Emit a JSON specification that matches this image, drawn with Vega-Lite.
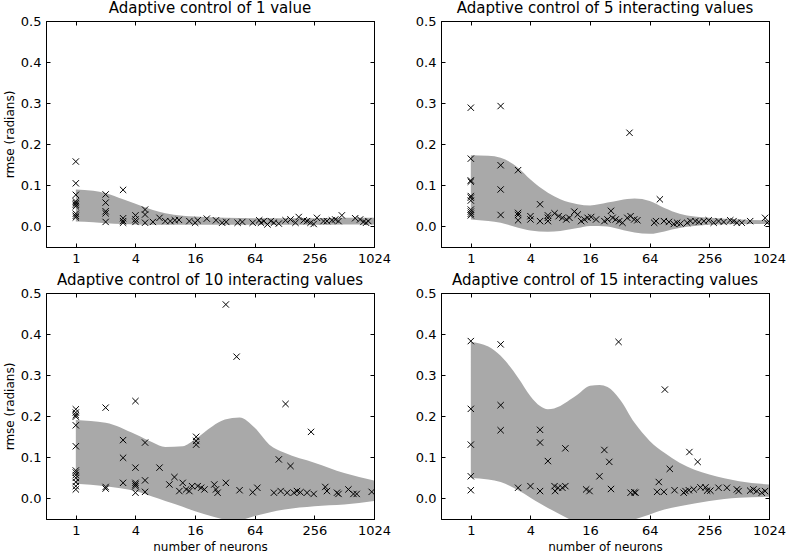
{
  "$schema": "https://vega.github.io/schema/vega-lite/v6.json",
  "background": "white",
  "padding": {"left": 2, "top": 0, "right": 5, "bottom": 5},
  "bounds": "flush",
  "columns": 2,
  "spacing": {"row": 46, "column": 67},
  "config": {
    "font": "DejaVu Sans",
    "view": {"stroke": "black", "strokeWidth": 1},
    "axis": {
      "domain": true, "domainColor": "black", "domainWidth": 1, "grid": false,
      "labelFont": "DejaVu Sans", "labelFontSize": 13, "labelColor": "black",
      "tickColor": "black", "tickSize": -4, "tickWidth": 1, "labelPadding": 9,
      "titleFont": "DejaVu Sans", "titleFontSize": 12, "titleFontWeight": "normal", "titleColor": "black", "titlePadding": 4,
      "labelOverlap": false, "labelFlush": false, "labelBound": false
    },
    "title": {"font": "DejaVu Sans", "fontSize": 15, "fontWeight": "normal", "color": "black", "offset": -1, "frame": "group"}
  },
  "datasets": {
    "p1": [
      {"n":1,"r":0.158},{"n":1,"r":0.105},{"n":1,"r":0.077},{"n":1,"r":0.061},{"n":1,"r":0.057},{"n":1,"r":0.053},{"n":1,"r":0.049},{"n":1,"r":0.031},{"n":1,"r":0.026},{"n":1,"r":0.022},
      {"n":2,"r":0.078},{"n":2,"r":0.058},{"n":2,"r":0.037},{"n":2,"r":0.032},{"n":2,"r":0.011},
      {"n":3,"r":0.089},{"n":3,"r":0.02},{"n":3,"r":0.013},{"n":3,"r":0.009},
      {"n":4,"r":0.027},{"n":4,"r":0.017},{"n":4,"r":0.011},
      {"n":5,"r":0.041},{"n":5,"r":0.029},{"n":5,"r":0.009},
      {"n":6,"r":0.011},{"n":7,"r":0.021},{"n":8,"r":0.013},{"n":9,"r":0.013},{"n":10,"r":0.015},{"n":11,"r":0.016},
      {"n":14,"r":0.013},{"n":16,"r":0.009},{"n":17,"r":0.015},{"n":21,"r":0.019},{"n":26,"r":0.015},{"n":30,"r":0.009},
      {"n":33,"r":0.011},{"n":43,"r":0.009},{"n":48,"r":0.011},{"n":61,"r":0.009},{"n":71,"r":0.015},{"n":74,"r":0.009},
      {"n":79,"r":0.013},{"n":86,"r":0.005},{"n":93,"r":0.013},{"n":100,"r":0.009},{"n":112,"r":0.007},{"n":131,"r":0.015},
      {"n":147,"r":0.017},{"n":165,"r":0.009},{"n":178,"r":0.023},{"n":200,"r":0.015},{"n":216,"r":0.013},{"n":234,"r":0.009},
      {"n":252,"r":0.006},{"n":272,"r":0.021},{"n":317,"r":0.013},{"n":343,"r":0.013},{"n":385,"r":0.015},{"n":416,"r":0.017},
      {"n":449,"r":0.013},{"n":485,"r":0.027},{"n":661,"r":0.02},{"n":741,"r":0.017},{"n":800,"r":0.011},{"n":851,"r":0.009},{"n":898,"r":0.013}
    ],
    "b1": [
      {"n":1,"lo":0.012,"hi":0.09},{"n":1.5,"lo":0.01,"hi":0.087},{"n":2,"lo":0.008,"hi":0.081},{"n":3,"lo":0.006,"hi":0.066},
      {"n":4,"lo":0.005,"hi":0.055},{"n":6,"lo":0.004,"hi":0.04},{"n":8,"lo":0.004,"hi":0.032},{"n":12,"lo":0.004,"hi":0.026},
      {"n":16,"lo":0.004,"hi":0.024},{"n":32,"lo":0.004,"hi":0.021},{"n":64,"lo":0.004,"hi":0.02},{"n":128,"lo":0.004,"hi":0.02},
      {"n":256,"lo":0.004,"hi":0.02},{"n":512,"lo":0.005,"hi":0.021},{"n":1024,"lo":0.005,"hi":0.021}
    ],
    "p2": [
      {"n":1,"r":0.289},{"n":1,"r":0.165},{"n":1,"r":0.112},{"n":1,"r":0.109},{"n":1,"r":0.074},{"n":1,"r":0.07},{"n":1,"r":0.063},{"n":1,"r":0.041},{"n":1,"r":0.036},{"n":1,"r":0.031},{"n":1,"r":0.027},
      {"n":2,"r":0.293},{"n":2,"r":0.149},{"n":2,"r":0.09},{"n":2,"r":0.028},
      {"n":3,"r":0.137},{"n":3,"r":0.033},{"n":3,"r":0.028},{"n":3,"r":0.015},
      {"n":4,"r":0.025},{"n":4,"r":0.017},{"n":5,"r":0.054},{"n":5,"r":0.013},
      {"n":6,"r":0.027},{"n":6,"r":0.021},{"n":6,"r":0.013},{"n":7,"r":0.032},{"n":7.7,"r":0.025},{"n":8.4,"r":0.021},{"n":9.2,"r":0.017},
      {"n":9.9,"r":0.021},{"n":11.1,"r":0.036},{"n":12,"r":0.029},{"n":13,"r":0.013},{"n":14,"r":0.017},{"n":15.1,"r":0.021},{"n":16.4,"r":0.023},
      {"n":18.4,"r":0.017},{"n":22.3,"r":0.013},{"n":24,"r":0.017},{"n":26,"r":0.038},{"n":27,"r":0.021},{"n":29,"r":0.017},{"n":31.5,"r":0.013},
      {"n":34,"r":0.009},{"n":38,"r":0.021},{"n":40,"r":0.228},{"n":41,"r":0.025},{"n":44.6,"r":0.017},{"n":48,"r":0.015},
      {"n":71,"r":0.009},{"n":74,"r":0.013},{"n":81,"r":0.066},{"n":89,"r":0.013},{"n":100,"r":0.011},{"n":112,"r":0.006},{"n":121,"r":0.009},
      {"n":131,"r":0.007},{"n":153,"r":0.009},{"n":165,"r":0.013},{"n":185,"r":0.013},{"n":200,"r":0.011},{"n":225,"r":0.013},{"n":252,"r":0.015},
      {"n":283,"r":0.009},{"n":317,"r":0.013},{"n":357,"r":0.011},{"n":416,"r":0.015},{"n":449,"r":0.013},{"n":485,"r":0.009},{"n":544,"r":0.009},
      {"n":661,"r":0.013},{"n":935,"r":0.021},{"n":984,"r":0.009}
    ],
    "b2": [
      {"n":1,"lo":0.017,"hi":0.173},{"n":1.5,"lo":0.013,"hi":0.172},{"n":2,"lo":0.009,"hi":0.167},{"n":3,"lo":-0.003,"hi":0.143},
      {"n":4,"lo":-0.01,"hi":0.114},{"n":6,"lo":-0.013,"hi":0.082},{"n":8,"lo":-0.011,"hi":0.066},{"n":12,"lo":-0.004,"hi":0.054},
      {"n":16,"lo":0.001,"hi":0.051},{"n":24,"lo":0.0,"hi":0.058},{"n":32,"lo":-0.007,"hi":0.064},{"n":45,"lo":-0.015,"hi":0.068},
      {"n":64,"lo":-0.018,"hi":0.062},{"n":90,"lo":-0.012,"hi":0.045},{"n":128,"lo":-0.004,"hi":0.031},{"n":256,"lo":0.004,"hi":0.021},
      {"n":512,"lo":0.006,"hi":0.017},{"n":1024,"lo":0.006,"hi":0.015}
    ],
    "p3": [
      {"n":1,"r":0.217},{"n":1,"r":0.209},{"n":1,"r":0.203},{"n":1,"r":0.199},{"n":1,"r":0.178},{"n":1,"r":0.127},{"n":1,"r":0.068},{"n":1,"r":0.063},{"n":1,"r":0.057},{"n":1,"r":0.05},{"n":1,"r":0.04},{"n":1,"r":0.03},{"n":1,"r":0.022},
      {"n":2,"r":0.221},{"n":2,"r":0.028},{"n":2,"r":0.024},
      {"n":3,"r":0.142},{"n":3,"r":0.099},{"n":3,"r":0.038},
      {"n":4,"r":0.237},{"n":4,"r":0.075},{"n":4,"r":0.038},{"n":4,"r":0.034},{"n":4,"r":0.03},{"n":4,"r":0.014},
      {"n":5,"r":0.136},{"n":5,"r":0.044},{"n":5,"r":0.016},
      {"n":7,"r":0.075},{"n":8.8,"r":0.034},{"n":9.9,"r":0.052},{"n":11.1,"r":0.018},{"n":12,"r":0.038},{"n":13,"r":0.022},{"n":14,"r":0.018},
      {"n":14.9,"r":0.03},{"n":16.4,"r":0.15},{"n":16.4,"r":0.14},{"n":16.4,"r":0.131},{"n":17,"r":0.03},{"n":18.4,"r":0.026},{"n":19.9,"r":0.022},
      {"n":25,"r":0.034},{"n":26,"r":0.022},{"n":27,"r":0.014},{"n":32.7,"r":0.472},{"n":32.7,"r":0.038},{"n":42,"r":0.345},{"n":45,"r":0.02},
      {"n":61,"r":0.015},{"n":68,"r":0.026},{"n":100,"r":0.014},{"n":112,"r":0.095},{"n":117,"r":0.018},{"n":131,"r":0.23},{"n":136,"r":0.014},
      {"n":147,"r":0.079},{"n":159,"r":0.014},{"n":171,"r":0.018},{"n":185,"r":0.015},{"n":216,"r":0.014},{"n":237,"r":0.162},{"n":252,"r":0.011},
      {"n":330,"r":0.028},{"n":343,"r":0.018},{"n":433,"r":0.014},{"n":449,"r":0.011},{"n":565,"r":0.022},{"n":635,"r":0.011},{"n":685,"r":0.011},{"n":970,"r":0.016}
    ],
    "b3": [
      {"n":1,"lo":0.036,"hi":0.191},{"n":2,"lo":0.03,"hi":0.184},{"n":4,"lo":0.018,"hi":0.156},{"n":6,"lo":0.004,"hi":0.136},
      {"n":8,"lo":-0.006,"hi":0.125},{"n":12,"lo":-0.02,"hi":0.127},{"n":16,"lo":-0.031,"hi":0.144},{"n":24,"lo":-0.044,"hi":0.176},
      {"n":32,"lo":-0.051,"hi":0.192},{"n":45,"lo":-0.052,"hi":0.197},{"n":64,"lo":-0.043,"hi":0.172},{"n":90,"lo":-0.034,"hi":0.131},
      {"n":128,"lo":-0.027,"hi":0.111},{"n":256,"lo":-0.019,"hi":0.087},{"n":512,"lo":-0.015,"hi":0.062},{"n":1024,"lo":-0.006,"hi":0.044}
    ],
    "p4": [
      {"n":1,"r":0.383},{"n":1,"r":0.218},{"n":1,"r":0.131},{"n":1,"r":0.054},{"n":1,"r":0.02},
      {"n":2,"r":0.375},{"n":2,"r":0.227},{"n":2,"r":0.166},
      {"n":3,"r":0.026},{"n":4,"r":0.03},{"n":5,"r":0.167},{"n":5,"r":0.136},{"n":5,"r":0.018},
      {"n":6,"r":0.091},{"n":7,"r":0.03},{"n":7.1,"r":0.018},{"n":7.6,"r":0.026},{"n":8.4,"r":0.026},{"n":9,"r":0.122},{"n":9,"r":0.03},
      {"n":14.6,"r":0.022},{"n":15.8,"r":0.018},{"n":19.9,"r":0.054},{"n":22.3,"r":0.118},{"n":25,"r":0.089},{"n":26,"r":0.023},{"n":31,"r":0.381},
      {"n":41,"r":0.014},{"n":44.6,"r":0.015},{"n":46,"r":0.014},{"n":76,"r":0.016},{"n":79,"r":0.04},{"n":89,"r":0.016},{"n":91,"r":0.265},
      {"n":102,"r":0.072},{"n":114,"r":0.02},{"n":141,"r":0.014},{"n":147,"r":0.018},{"n":159,"r":0.02},{"n":161,"r":0.113},{"n":178,"r":0.022},
      {"n":195,"r":0.089},{"n":208,"r":0.027},{"n":234,"r":0.027},{"n":243,"r":0.019},{"n":262,"r":0.019},{"n":317,"r":0.026},{"n":385,"r":0.026},
      {"n":485,"r":0.022},{"n":505,"r":0.018},{"n":661,"r":0.019},{"n":713,"r":0.022},{"n":770,"r":0.018},{"n":865,"r":0.014},{"n":935,"r":0.018}
    ],
    "b4": [
      {"n":1,"lo":0.05,"hi":0.381},{"n":1.5,"lo":0.046,"hi":0.37},{"n":2,"lo":0.04,"hi":0.347},{"n":3,"lo":0.02,"hi":0.294},
      {"n":4,"lo":0.002,"hi":0.249},{"n":5,"lo":-0.012,"hi":0.225},{"n":6,"lo":-0.023,"hi":0.217},{"n":8,"lo":-0.039,"hi":0.225},
      {"n":10,"lo":-0.051,"hi":0.24},{"n":12,"lo":-0.058,"hi":0.253},{"n":16,"lo":-0.065,"hi":0.274},{"n":20,"lo":-0.068,"hi":0.276},
      {"n":24,"lo":-0.066,"hi":0.271},{"n":32,"lo":-0.06,"hi":0.241},{"n":45,"lo":-0.051,"hi":0.184},{"n":64,"lo":-0.039,"hi":0.14},
      {"n":90,"lo":-0.027,"hi":0.111},{"n":128,"lo":-0.019,"hi":0.087},{"n":256,"lo":-0.006,"hi":0.058},{"n":512,"lo":0.002,"hi":0.042},
      {"n":1024,"lo":0.004,"hi":0.034}
    ]
  },
  "concat": [
    {
      "title": "Adaptive control of 1 value",
      "width": 328, "height": 226,
      "resolve": {"axis": {"x": "independent", "y": "independent"}},
      "layer": [
        {"data": {"name": "b1"},
         "mark": {"type": "area", "color": "#a9a9a9", "interpolate": "monotone", "clip": true},
         "encoding": {
           "x": {"field": "n", "type": "quantitative", "scale": {"type": "log", "base": 2, "domain": [0.5, 1024], "nice": false}, "axis": {"orient": "bottom", "values": [1, 4, 16, 64, 256, 1024], "format": "d", "title": null}},
           "y": {"field": "lo", "type": "quantitative", "scale": {"domain": [-0.05, 0.5], "nice": false, "zero": false}, "axis": {"orient": "left", "values": [0, 0.1, 0.2, 0.3, 0.4, 0.5], "format": ".1f", "title": "rmse (radians)"}},
           "y2": {"field": "hi"}
         }},
        {"data": {"name": "p1"},
         "mark": {"type": "point", "shape": "M-1,-1L1,1M-1,1L1,-1", "size": 40, "stroke": "black", "strokeWidth": 1, "filled": false, "opacity": 1, "clip": true},
         "encoding": {
           "x": {"field": "n", "type": "quantitative", "axis": {"orient": "top", "values": [1, 4, 16, 64, 256, 1024], "labels": false, "title": null}},
           "y": {"field": "r", "type": "quantitative", "axis": {"orient": "right", "values": [0, 0.1, 0.2, 0.3, 0.4, 0.5], "labels": false, "title": null}}
         }}
      ]
    },
    {
      "title": "Adaptive control of 5 interacting values",
      "width": 328, "height": 226,
      "resolve": {"axis": {"x": "independent", "y": "independent"}},
      "layer": [
        {"data": {"name": "b2"},
         "mark": {"type": "area", "color": "#a9a9a9", "interpolate": "monotone", "clip": true},
         "encoding": {
           "x": {"field": "n", "type": "quantitative", "scale": {"type": "log", "base": 2, "domain": [0.5, 1024], "nice": false}, "axis": {"orient": "bottom", "values": [1, 4, 16, 64, 256, 1024], "format": "d", "title": null}},
           "y": {"field": "lo", "type": "quantitative", "scale": {"domain": [-0.05, 0.5], "nice": false, "zero": false}, "axis": {"orient": "left", "values": [0, 0.1, 0.2, 0.3, 0.4, 0.5], "format": ".1f", "title": null}},
           "y2": {"field": "hi"}
         }},
        {"data": {"name": "p2"},
         "mark": {"type": "point", "shape": "M-1,-1L1,1M-1,1L1,-1", "size": 40, "stroke": "black", "strokeWidth": 1, "filled": false, "opacity": 1, "clip": true},
         "encoding": {
           "x": {"field": "n", "type": "quantitative", "axis": {"orient": "top", "values": [1, 4, 16, 64, 256, 1024], "labels": false, "title": null}},
           "y": {"field": "r", "type": "quantitative", "axis": {"orient": "right", "values": [0, 0.1, 0.2, 0.3, 0.4, 0.5], "labels": false, "title": null}}
         }}
      ]
    },
    {
      "title": "Adaptive control of 10 interacting values",
      "width": 328, "height": 226,
      "resolve": {"axis": {"x": "independent", "y": "independent"}},
      "layer": [
        {"data": {"name": "b3"},
         "mark": {"type": "area", "color": "#a9a9a9", "interpolate": "monotone", "clip": true},
         "encoding": {
           "x": {"field": "n", "type": "quantitative", "scale": {"type": "log", "base": 2, "domain": [0.5, 1024], "nice": false}, "axis": {"orient": "bottom", "values": [1, 4, 16, 64, 256, 1024], "format": "d", "title": "number of neurons"}},
           "y": {"field": "lo", "type": "quantitative", "scale": {"domain": [-0.05, 0.5], "nice": false, "zero": false}, "axis": {"orient": "left", "values": [0, 0.1, 0.2, 0.3, 0.4, 0.5], "format": ".1f", "title": "rmse (radians)"}},
           "y2": {"field": "hi"}
         }},
        {"data": {"name": "p3"},
         "mark": {"type": "point", "shape": "M-1,-1L1,1M-1,1L1,-1", "size": 40, "stroke": "black", "strokeWidth": 1, "filled": false, "opacity": 1, "clip": true},
         "encoding": {
           "x": {"field": "n", "type": "quantitative", "axis": {"orient": "top", "values": [1, 4, 16, 64, 256, 1024], "labels": false, "title": null}},
           "y": {"field": "r", "type": "quantitative", "axis": {"orient": "right", "values": [0, 0.1, 0.2, 0.3, 0.4, 0.5], "labels": false, "title": null}}
         }}
      ]
    },
    {
      "title": "Adaptive control of 15 interacting values",
      "width": 328, "height": 226,
      "resolve": {"axis": {"x": "independent", "y": "independent"}},
      "layer": [
        {"data": {"name": "b4"},
         "mark": {"type": "area", "color": "#a9a9a9", "interpolate": "monotone", "clip": true},
         "encoding": {
           "x": {"field": "n", "type": "quantitative", "scale": {"type": "log", "base": 2, "domain": [0.5, 1024], "nice": false}, "axis": {"orient": "bottom", "values": [1, 4, 16, 64, 256, 1024], "format": "d", "title": "number of neurons"}},
           "y": {"field": "lo", "type": "quantitative", "scale": {"domain": [-0.05, 0.5], "nice": false, "zero": false}, "axis": {"orient": "left", "values": [0, 0.1, 0.2, 0.3, 0.4, 0.5], "format": ".1f", "title": null}},
           "y2": {"field": "hi"}
         }},
        {"data": {"name": "p4"},
         "mark": {"type": "point", "shape": "M-1,-1L1,1M-1,1L1,-1", "size": 40, "stroke": "black", "strokeWidth": 1, "filled": false, "opacity": 1, "clip": true},
         "encoding": {
           "x": {"field": "n", "type": "quantitative", "axis": {"orient": "top", "values": [1, 4, 16, 64, 256, 1024], "labels": false, "title": null}},
           "y": {"field": "r", "type": "quantitative", "axis": {"orient": "right", "values": [0, 0.1, 0.2, 0.3, 0.4, 0.5], "labels": false, "title": null}}
         }}
      ]
    }
  ]
}
